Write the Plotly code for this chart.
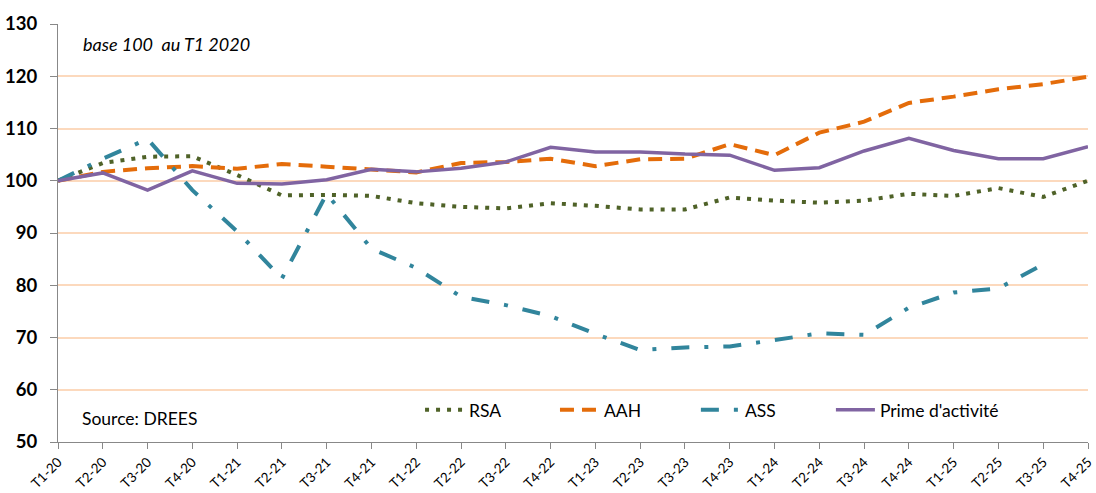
import plotly.graph_objects as go

quarters = ["T1-20","T2-20","T3-20","T4-20","T1-21","T2-21","T3-21","T4-21",
            "T1-22","T2-22","T3-22","T4-22","T1-23","T2-23","T3-23","T4-23",
            "T1-24","T2-24","T3-24","T4-24","T1-25","T2-25","T3-25","T4-25"]

rsa = [100, 103.4, 104.6, 104.7, 101.1, 97.2, 97.3, 97.1,
       95.7, 95.0, 94.7, 95.7, 95.2, 94.5, 94.5, 96.8,
       96.2, 95.8, 96.2, 97.5, 97.1, 98.6, 96.9, 100.0]
aah = [100, 101.7, 102.4, 102.8, 102.3, 103.2, 102.7, 102.1,
       101.6, 103.4, 103.6, 104.2, 102.8, 104.1, 104.2, 107.0,
       104.9, 109.2, 111.3, 114.9, 116.1, 117.5, 118.5, 119.9]
ass = [100, 104.2, 108.0, 98.2, 90.3, 81.3, 97.5, 87.0,
       83.3, 77.8, 76.2, 74.1, 70.7, 67.6, 68.1, 68.3,
       69.5, 70.8, 70.5, 75.7, 78.6, 79.4, 84.0, None]
prime = [100, 101.5, 98.2, 101.9, 99.5, 99.4, 100.2, 102.2,
         101.7, 102.4, 103.6, 106.4, 105.5, 105.5, 105.1, 104.9,
         102.0, 102.5, 105.7, 108.1, 105.8, 104.2, 104.2, 106.5]

yticks = [50, 60, 70, 80, 90, 100, 110, 120, 130]

FONT = "Lato"

series = [
    ("RSA", rsa, dict(color="#4F6228", width=4, dash="4px,7px"), "legend", 0.3515),
    ("AAH", aah, dict(color="#E46C0A", width=4, dash="14px,8px"), "legend2", 0.4825),
    ("ASS", ass, dict(color="#31859C", width=4, dash="18px,15px,4px,15px"), "legend3", 0.6193),
    ("Prime d'activité", prime, dict(color="#8064A2", width=3.5), "legend4", 0.7504),
]

fig = go.Figure()
legend_layout = {}
for name, vals, line, lg, lx in series:
    fig.add_trace(go.Scatter(x=quarters, y=vals, mode="lines", name=name,
                             line=line, legend=lg))
    legend_layout[lg] = dict(orientation="h", x=lx, y=0.0766, xanchor="left",
                             yanchor="middle", bgcolor="rgba(0,0,0,0)",
                             font=dict(size=17.5, family=FONT), itemwidth=39)

fig.update_layout(
    width=1096, height=493,
    margin=dict(l=58, r=8, t=24, b=51, autoexpand=False),
    paper_bgcolor="white", plot_bgcolor="white",
    font=dict(family=FONT, color="#000000"),
    showlegend=True,
    xaxis=dict(type="category", range=[0, 23], showgrid=False, automargin=False,
               showline=True, linecolor="#888888", linewidth=1,
               ticks="outside", ticklen=6, tickcolor="#888888",
               tickangle=-45, tickfont=dict(size=13.5, family=FONT),
               zeroline=False),
    yaxis=dict(range=[50, 130], tickvals=yticks, showgrid=True, automargin=False,
               gridcolor="#FCD9BD", gridwidth=1.5,
               showline=True, linecolor="#888888", linewidth=1,
               ticks="outside", ticklen=7, tickcolor="#888888",
               ticklabelstandoff=9,
               tickfont=dict(size=18.5, family=FONT, weight="bold"),
               zeroline=False),
    annotations=[
        dict(text="<i>base 100  au T1 2020</i>", xref="paper", yref="paper",
             x=0.022, y=0.952, xanchor="left", yanchor="middle", showarrow=False,
             font=dict(size=18, family=FONT)),
        dict(text="Source: DREES", xref="paper", yref="paper",
             x=0.021, y=0.0574, xanchor="left", yanchor="middle", showarrow=False,
             font=dict(size=17.5, family=FONT)),
    ],
    **legend_layout,
)

fig.write_html("out.html", config={"displayModeBar": False},
               post_script="document.body.style.margin='0';")
